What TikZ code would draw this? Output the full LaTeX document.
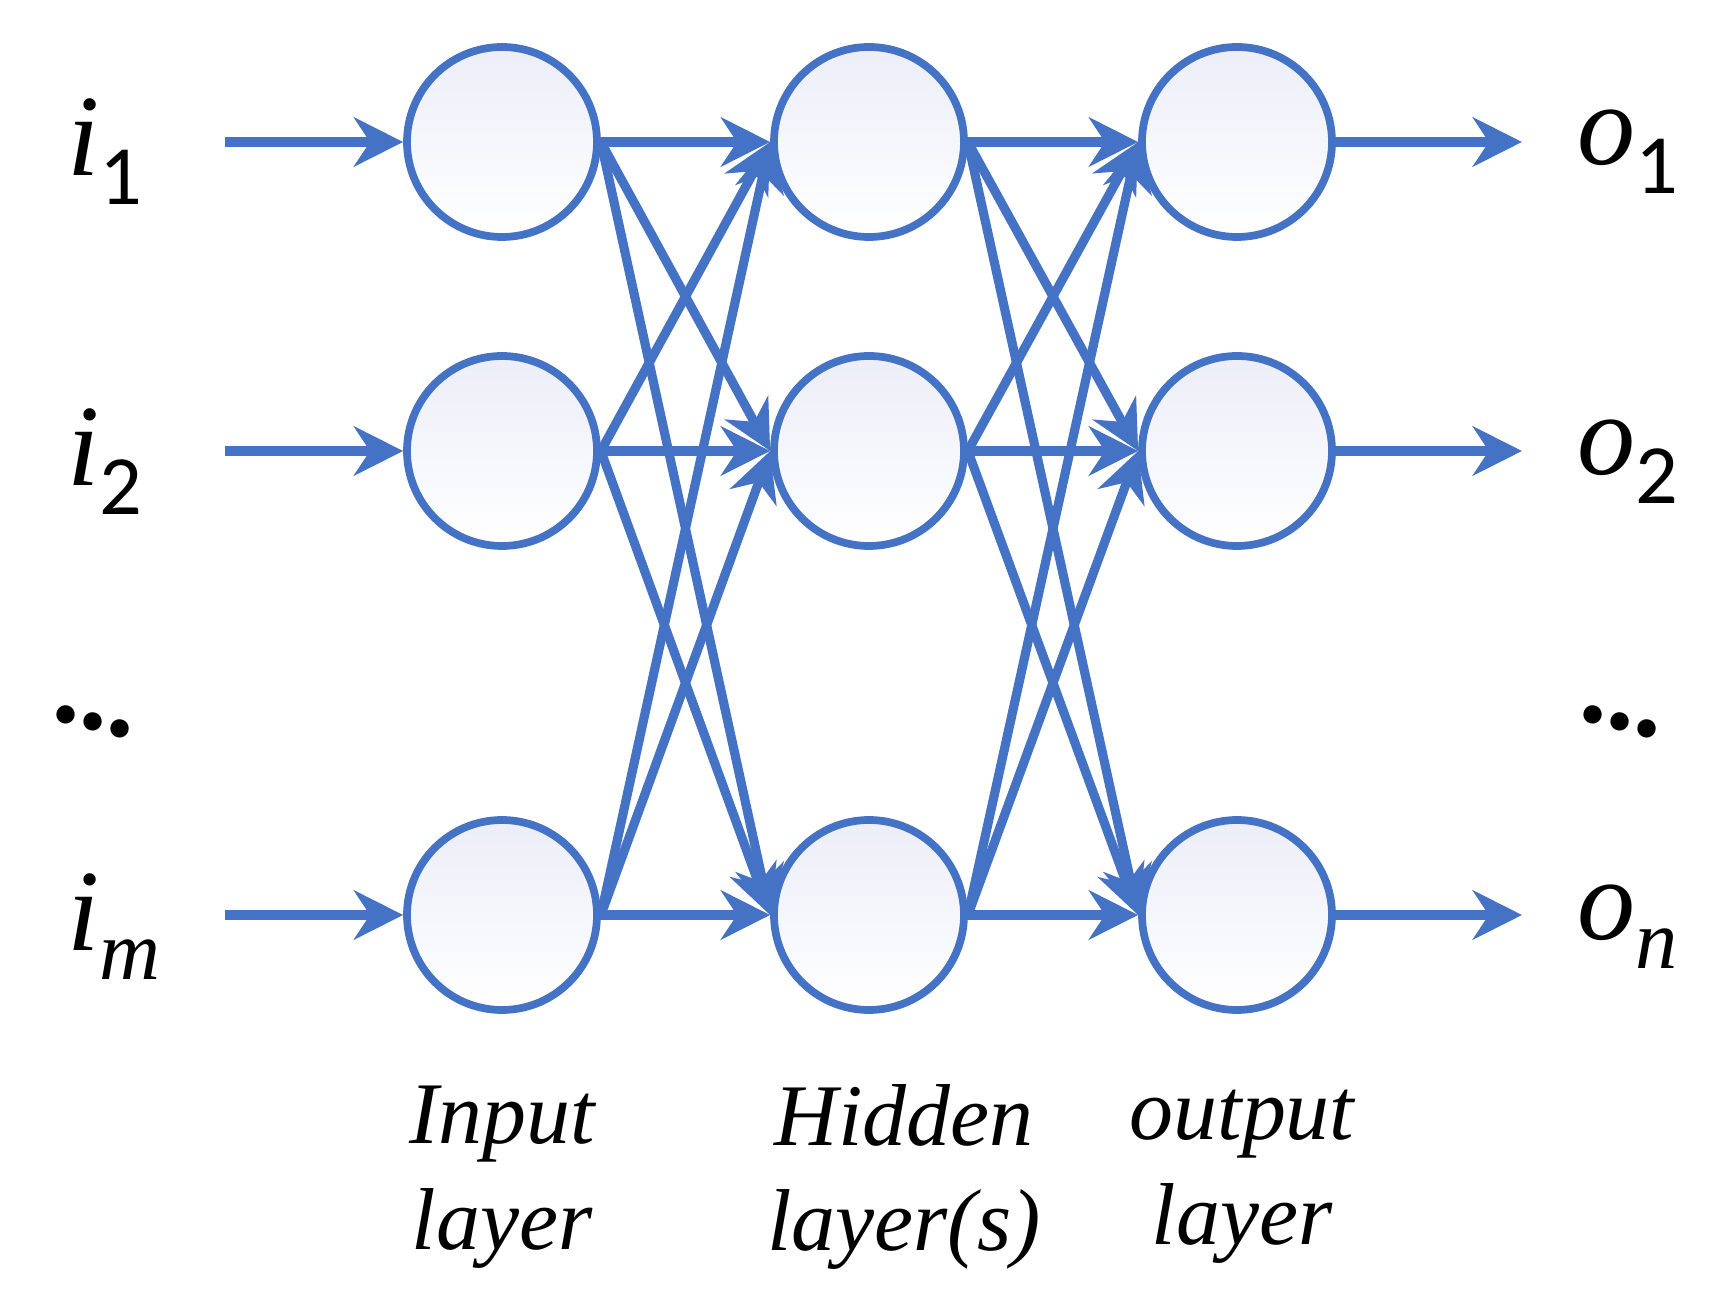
\documentclass[tikz,border=0pt]{standalone}
\usepackage{fontspec}
\setmainfont{Liberation Serif}
\newfontfamily\subfont{Carlito}
\usetikzlibrary{arrows.meta}
\definecolor{netblue}{RGB}{68,114,196}
\definecolor{cellfill}{RGB}{236,238,248}
\tikzset{
	neuron/.style = {circle, draw = netblue, line width = 2.2pt, minimum size = 1.9cm, inner sep = 0pt, top color = cellfill, bottom color = white},
	link/.style = {netblue, line width = 2.6pt, -{Stealth[length = 14pt, width = 14pt]}},
	txt/.style = {font = \fontsize{25}{30}\selectfont\itshape},
	sym/.style = {font = \fontsize{33}{36}\selectfont\itshape, anchor = west}
}
\newcommand{\idx}[1]{\raisebox{-0.25em}{\fontsize{24}{26}\selectfont #1}}
\begin{document}
\begin{tikzpicture}
			\useasboundingbox (0,0) rectangle (17.14,13.07);
			\def\xa{5.02};
			\def\xb{8.69};
			\def\xc{12.37};

			% layers
			\foreach \n/\y in {1/11.65, 2/8.56, 3/3.92} {
				\node[neuron] (in\n) at (\xa,\y) {};
				\node[neuron] (hid\n) at (\xb,\y) {};
				\node[neuron] (out\n) at (\xc,\y) {};
				\coordinate (src\n) at (2.25,\y);
				\coordinate (dst\n) at (15.22,\y);
				\draw[link] (src\n) -- (in\n.west);
				\draw[link] (out\n.east) -- (dst\n);
			}

			\foreach \a in {1,2,3} {
				\foreach \b in {1,2,3} {
					\draw[link] (in\a.east) -- (hid\b.west);
					\draw[link] (hid\a.east) -- (out\b.west);
				}
			}

			% labels
			\node[sym] (li1) at (0.55,11.55) {i\idx{\subfont\upshape 1}};
			\node[sym] (li2) at (0.55,8.45) {i\idx{\subfont\upshape 2}};
			\node[sym] (lim) at (0.55,3.8) {i\idx{m}};
			\node[sym] (lo1) at (15.65,11.55) {o\idx{\subfont\upshape 1}};
			\node[sym] (lo2) at (15.65,8.45) {o\idx{\subfont\upshape 2}};
			\node[sym] (lon) at (15.65,3.8) {o\idx{n}};
			\node[font = \fontsize{32}{32}\selectfont\bfseries, rotate = -15, inner sep = 0pt] (dl) at (0.93,5.85) {...};
			\node[font = \fontsize{32}{32}\selectfont\bfseries, rotate = -15, inner sep = 0pt] (dr) at (16.2,5.85) {...};

			\node[txt, align = center] (tin) at (\xa,1.3) {Input\\layer};
			\node[txt, align = center] (thid) at (\xb+0.35,1.3) {Hidden\\layer(s)};
			\node[txt, align = center] (tout) at (\xc+0.05,1.3) {output\\layer};
		\end{tikzpicture}
\end{document}
